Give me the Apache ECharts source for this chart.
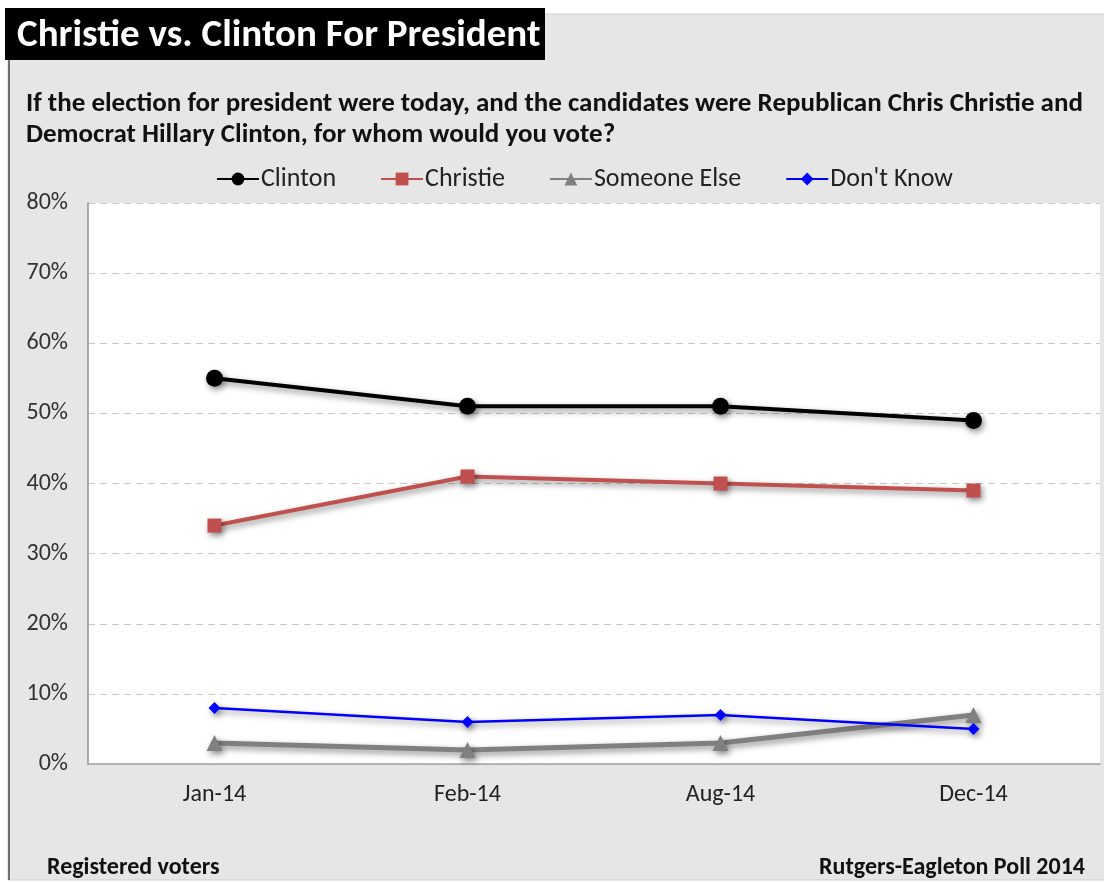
<!DOCTYPE html>
<html><head><meta charset="utf-8">
<script src="https://cdn.jsdelivr.net/npm/echarts@6/dist/echarts.min.js"></script>
<style>html,body{margin:0;padding:0;background:#fff;}#c{width:1104px;height:883px;}</style>
</head><body><div id="c"></div>
<script>
const categories = ['Jan-14', 'Feb-14', 'Aug-14', 'Dec-14'];
const clinton = [55, 51, 51, 49];
const christie = [34, 41, 40, 39];
const someoneElse = [3, 2, 3, 7];
const dontKnow = [8, 6, 7, 5];
const yTicks = [0, 10, 20, 30, 40, 50, 60, 70, 80];

const F = "Carlito, 'Liberation Sans Narrow', 'Open Sans', sans-serif";
const chart = echarts.init(document.getElementById('c'));
const shadow = {shadowColor: 'rgba(0,0,0,0.45)', shadowBlur: 6, shadowOffsetX: 2, shadowOffsetY: 3};
function mk(name, data, color, symbol, size, width) {
  return {
    name, type: 'line', data, symbol, symbolSize: size, showSymbol: true,
    lineStyle: Object.assign({color, width}, shadow),
    itemStyle: Object.assign({color, borderWidth: 0}, shadow),
    emphasis: {disabled: true}, z: 3
  };
}
chart.setOption({
  animation: false,
  backgroundColor: '#ffffff',
  graphic: [
    {type: 'rect', shape: {x: 8, y: 14, width: 1100, height: 866}, style: {fill: '#e6e6e6', stroke: '#d0d0d0', lineWidth: 1}, z: -10},
    {type: 'rect', shape: {x: 8, y: 14, width: 2, height: 866}, style: {fill: '#707070'}, z: -9},
    {type: 'rect', shape: {x: 5, y: 8, width: 540, height: 52}, style: {fill: '#000000'}, z: -8}
  ],
  title: [
    {text: 'Christie vs. Clinton For President', left: 12, top: 12,
     textStyle: {color: '#ffffff', fontFamily: F, fontWeight: 'bold', fontSize: 39}},
    {text: 'If the election for president were today, and the candidates were Republican Chris Christie and\nDemocrat Hillary Clinton, for whom would you vote?', left: 21, top: 84,
     textStyle: {color: '#111111', fontFamily: F, fontWeight: 'bold', fontSize: 27, lineHeight: 31}},
    {text: 'Registered voters', left: 42, top: 851,
     textStyle: {color: '#111111', fontFamily: F, fontWeight: 'bold', fontSize: 24}},
    {text: 'Rutgers-Eagleton Poll 2014', right: 14, top: 851,
     textStyle: {color: '#111111', fontFamily: F, fontWeight: 'bold', fontSize: 24}}
  ],
  legend: {
    top: 166, left: 216, padding: 0, itemWidth: 42, itemHeight: 16, itemGap: 44,
    textStyle: {fontFamily: F, fontSize: 26, color: '#222222', padding: [0, 0, 0, -3]},
    data: ['Clinton', 'Christie', 'Someone Else', "Don't Know"]
  },
  grid: {left: 88, top: 203, width: 1012, height: 561, containLabel: false,
         show: true, backgroundColor: '#ffffff', borderWidth: 0},
  xAxis: {
    type: 'category', data: categories, boundaryGap: true,
    axisLine: {lineStyle: {color: '#a0a0a0', width: 1.5}},
    axisTick: {show: false},
    axisLabel: {fontFamily: F, fontSize: 24, color: '#222222', margin: 19}
  },
  yAxis: {
    type: 'value', min: 0, max: 80, interval: 10,
    axisLine: {show: true, lineStyle: {color: '#909090', width: 1.5}},
    axisTick: {show: false},
    splitLine: {lineStyle: {color: '#c8c8c8', type: [7, 5], width: 1.2}},
    axisLabel: {fontFamily: F, fontSize: 24, color: '#333333', margin: 20,
      formatter: v => yTicks.includes(v) ? v + '%' : ''}
  },
  series: [
    mk('Clinton', clinton, '#000000', 'circle', 17, 4),
    mk('Christie', christie, '#c0504d', 'rect', 14, 4),
    mk('Someone Else', someoneElse, '#808080', 'triangle', 16, 5),
    mk("Don't Know", dontKnow, '#0000ff', 'diamond', 12, 2.5)
  ]
});
</script></body></html>
